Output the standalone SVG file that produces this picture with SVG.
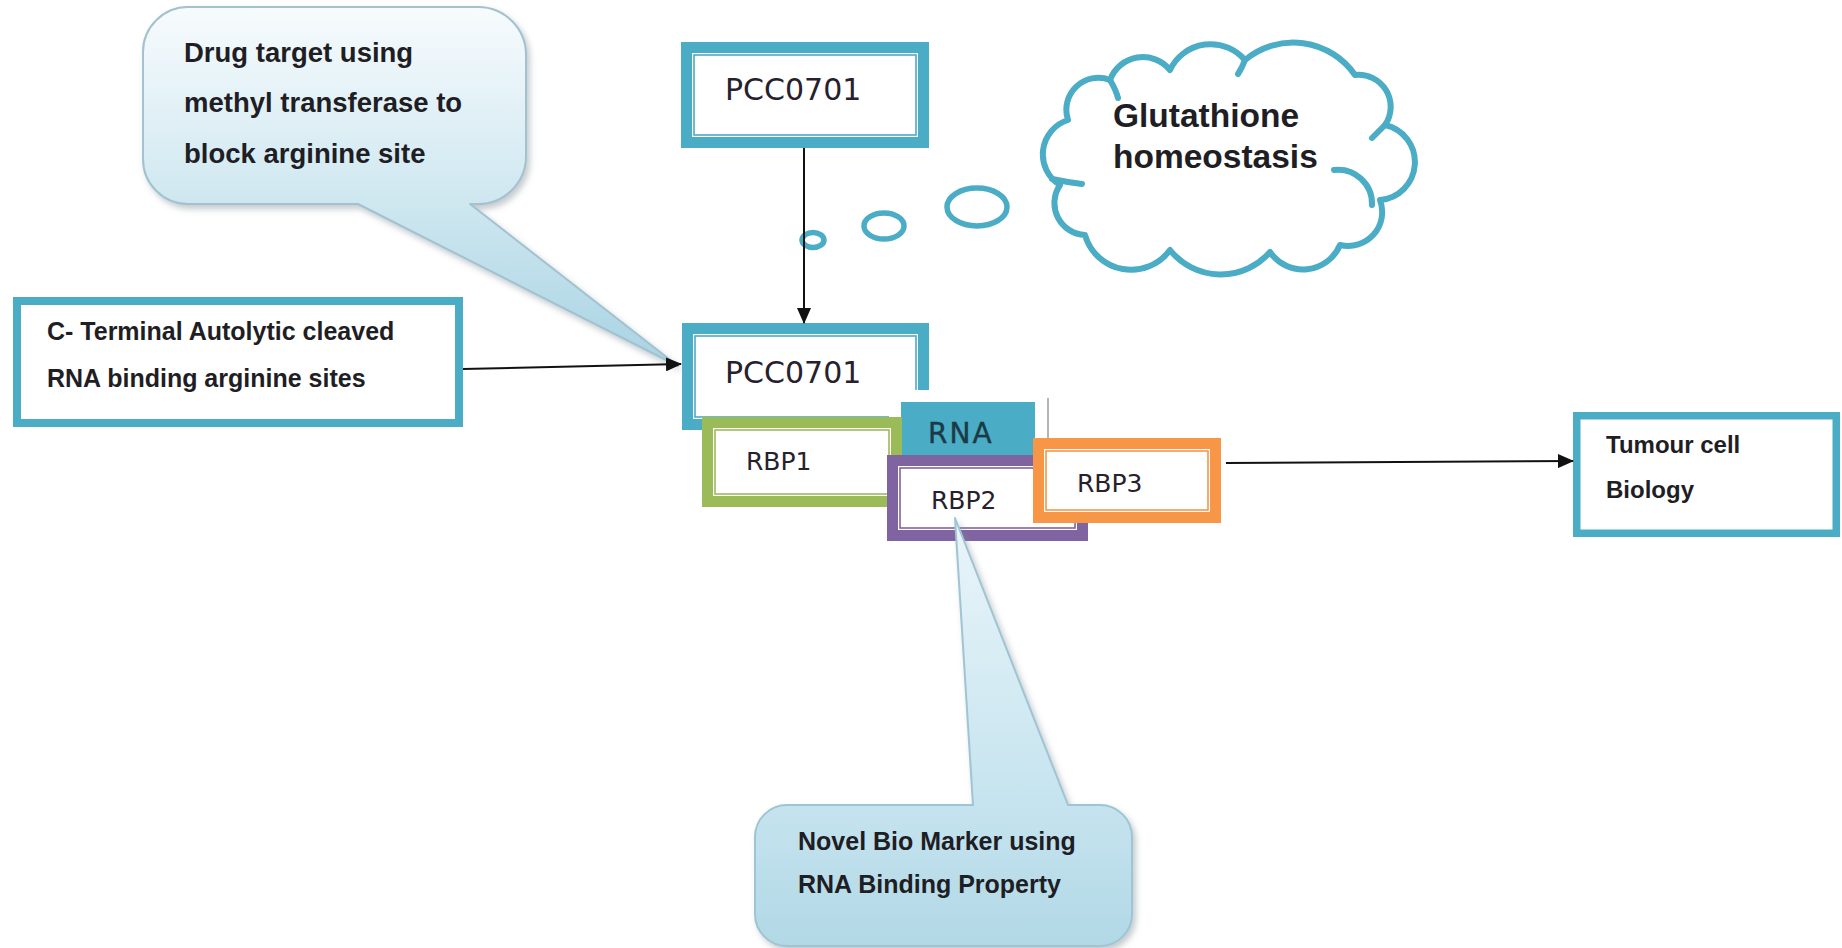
<svg xmlns="http://www.w3.org/2000/svg" width="1842" height="948" viewBox="0 0 1842 948">
  <defs>
    <style>
      .teal { stroke: #4bacc6; }
      .band { fill: none; stroke-width: 11; }
      .thin { fill: none; stroke-width: 1.6; }
      .bg { fill: #ffffff; }
      .lbl { font-family: "DejaVu Sans", "Liberation Sans", sans-serif; fill: #26212c; }
      .note { font-family: "Liberation Sans", Arial, sans-serif; font-weight: bold; fill: #1e1e24; }
      .wire { stroke: #111111; stroke-width: 2; fill: none; }
    </style>
    <marker id="arrow" markerUnits="userSpaceOnUse" markerWidth="16" markerHeight="14" viewBox="0 0 16 14" refX="15" refY="7" orient="auto">
      <path d="M0,0 L16,7 L0,14 Z" fill="#111111"/>
    </marker>
    <linearGradient id="calloutTop" gradientUnits="userSpaceOnUse" x1="0" y1="8" x2="0" y2="366">
      <stop offset="0" stop-color="#f7fbfd"/>
      <stop offset="0.5" stop-color="#d2e9f1"/>
      <stop offset="1" stop-color="#a8d3e3"/>
    </linearGradient>
    <linearGradient id="calloutBottom" gradientUnits="userSpaceOnUse" x1="0" y1="518" x2="0" y2="946">
      <stop offset="0" stop-color="#eaf5f9"/>
      <stop offset="0.65" stop-color="#c6e4ef"/>
      <stop offset="1" stop-color="#b2d8e6"/>
    </linearGradient>
    <filter id="shadow" x="-10%" y="-10%" width="130%" height="130%">
      <feDropShadow dx="3" dy="4" stdDeviation="3" flood-color="#7a8a90" flood-opacity="0.45"/>
    </filter>
  </defs>

  <rect width="1842" height="948" fill="#ffffff"/>

  <!-- thought bubbles leading to the cloud -->
  <g id="thought-bubbles" fill="#ffffff" stroke="#4bacc6" stroke-width="5.5">
    <ellipse cx="813" cy="240" rx="11" ry="7.5"/>
    <ellipse cx="884" cy="226" rx="20" ry="13"/>
    <ellipse cx="977" cy="207" rx="30" ry="19"/>
  </g>

  <!-- cloud: Glutathione homeostasis -->
  <g id="cloud-glutathione">
    <path fill="#ffffff" stroke="#4bacc6" stroke-width="6" stroke-linejoin="round"
          d="M1068,120 A32,32 0 0 1 1110,80 A35,35 0 0 1 1170,70 A45,45 0 0 1 1245,60 A75,75 0 0 1 1355,75 A32,32 0 0 1 1385,125 A38,38 0 0 1 1380,200 A34,34 0 0 1 1340,245 A40,40 0 0 1 1270,252 A65,65 0 0 1 1170,250 A48,48 0 0 1 1085,235 A32,32 0 0 1 1060,185 A36,36 0 0 1 1068,120 Z"/>
    <g fill="none" stroke="#4bacc6" stroke-width="6" stroke-linecap="round">
      <path d="M1334,170 A34,34 0 0 1 1372,205"/>
      <path d="M1052,179 Q1066,182 1082,184"/>
      <path d="M1110,80 Q1116,90 1118,98"/>
      <path d="M1245,60 Q1242,68 1238,74"/>
      <path d="M1385,125 Q1378,132 1372,138"/>
    </g>
    <text class="note" x="1113" y="127" font-size="33.5" fill="#1c1c22">Glutathione</text>
    <text class="note" x="1113" y="168" font-size="33.5" fill="#1c1c22">homeostasis</text>
  </g>

  <!-- PCC0701 (upstream) -->
  <g id="pcc0701-top">
    <rect class="bg" x="681" y="42" width="248" height="106"/>
    <rect class="band teal" x="686.5" y="47.5" width="237" height="95"/>
    <rect class="thin teal" x="694" y="55" width="222" height="80"/>
    <text class="lbl" x="725" y="100" font-size="30">PCC0701</text>
  </g>

  <!-- C-terminal box -->
  <g id="c-terminal">
    <rect class="bg" x="13" y="297" width="450" height="130"/>
    <rect fill="none" class="teal" stroke-width="8" x="17" y="301" width="442" height="122"/>
    <text class="note" x="47" y="340" font-size="25">C- Terminal Autolytic cleaved</text>
    <text class="note" x="47" y="387" font-size="25">RNA binding arginine sites</text>
  </g>

  <!-- PCC0701 (central) -->
  <g id="pcc0701-mid">
    <rect class="bg" x="682" y="323" width="247" height="107"/>
    <rect class="band teal" x="687.5" y="328.5" width="236" height="96"/>
    <rect class="thin teal" x="695" y="336" width="221" height="81"/>
    <text class="lbl" x="725" y="383" font-size="30">PCC0701</text>
  </g>

  <!-- RNA -->
  <g id="rna">
    <rect class="bg" x="889" y="390" width="159" height="75"/>
    <line x1="1048" y1="398" x2="1048" y2="438" stroke="#a0a4a8" stroke-width="1.6"/>
    <rect x="901" y="402" width="134" height="63" fill="#4bacc6"/>
    <text x="928" y="443" font-family="'DejaVu Sans', 'Liberation Sans', sans-serif" font-size="28" fill="#1a3a45" stroke="#1a3a45" stroke-width="0.4" letter-spacing="2">RNA</text>
  </g>

  <!-- RBP1 -->
  <g id="rbp1">
    <rect class="bg" x="702" y="417" width="200" height="90"/>
    <rect class="band" stroke="#9bbb59" x="707.5" y="422.5" width="189" height="79"/>
    <rect class="thin" stroke="#9bbb59" x="715" y="430" width="174" height="64"/>
    <text class="lbl" x="746" y="470" font-size="25">RBP1</text>
  </g>

  <!-- RBP2 -->
  <g id="rbp2">
    <rect class="bg" x="887" y="455" width="201" height="86"/>
    <rect class="band" stroke="#8064a2" x="892.5" y="460.5" width="190" height="75"/>
    <rect class="thin" stroke="#8064a2" x="900" y="468" width="175" height="60"/>
    <text class="lbl" x="931" y="509" font-size="25">RBP2</text>
  </g>

  <!-- RBP3 -->
  <g id="rbp3">
    <rect class="bg" x="1033" y="438" width="188" height="85"/>
    <rect class="band" stroke="#f79646" x="1038.5" y="443.5" width="177" height="74"/>
    <rect class="thin" stroke="#f79646" x="1046" y="451" width="162" height="59"/>
    <text class="lbl" x="1077" y="492" font-size="25">RBP3</text>
  </g>

  <!-- Tumour cell Biology -->
  <g id="tumour-cell">
    <rect class="bg" x="1573" y="412" width="267" height="125"/>
    <rect fill="none" class="teal" stroke-width="7.5" x="1576.75" y="415.75" width="259.5" height="117.5"/>
    <text class="note" x="1606" y="453" font-size="24">Tumour cell</text>
    <text class="note" x="1606" y="498" font-size="24">Biology</text>
  </g>

  <!-- callout: drug target -->
  <g id="callout-drug-target">
    <path filter="url(#shadow)" fill="url(#calloutTop)" stroke="#a3c2d0" stroke-width="2" stroke-linejoin="round"
          d="M188,7 H478 A48,48 0 0 1 526,55 V156 A48,48 0 0 1 478,204 H470 L678,366 L358,204 H188 A45,45 0 0 1 143,159 V52 A45,45 0 0 1 188,7 Z"/>
    <text class="note" x="184" y="62" font-size="27.5">Drug target using</text>
    <text class="note" x="184" y="112" font-size="27.5">methyl transferase to</text>
    <text class="note" x="184" y="163" font-size="27.5">block arginine site</text>
  </g>

  <!-- callout: novel bio marker -->
  <g id="callout-bio-marker">
    <path filter="url(#shadow)" fill="url(#calloutBottom)" stroke="#9fc4d4" stroke-width="2" stroke-linejoin="round"
          d="M787,805 H973 L955,518 L1068,805 H1100 A32,32 0 0 1 1132,837 V914 A32,32 0 0 1 1100,946 H787 A32,32 0 0 1 755,914 V837 A32,32 0 0 1 787,805 Z"/>
    <text class="note" x="798" y="850" font-size="25" fill="#203a5c">Novel Bio Marker using</text>
    <text class="note" x="798" y="893" font-size="25" fill="#203a5c">RNA Binding Property</text>
  </g>

  <!-- connectors -->
  <g id="connectors">
    <line class="wire" x1="804" y1="148" x2="804" y2="323" marker-end="url(#arrow)"/>
    <line class="wire" x1="463" y1="369" x2="681" y2="364" marker-end="url(#arrow)"/>
    <line class="wire" x1="1226" y1="463" x2="1573" y2="461" marker-end="url(#arrow)"/>
  </g>
</svg>
